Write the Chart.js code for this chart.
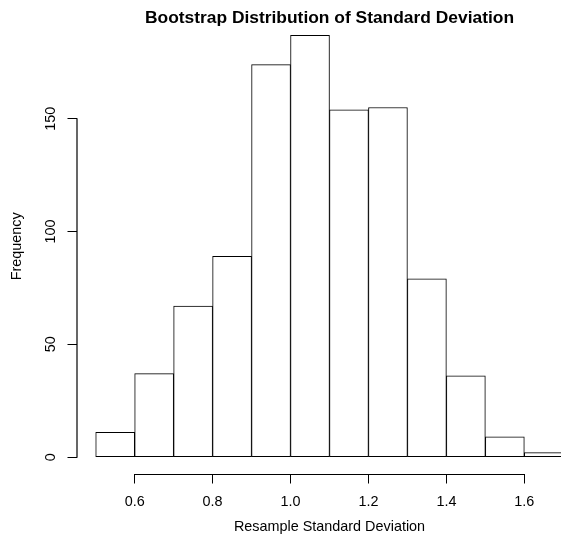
<!DOCTYPE html>
<html>
<head>
<meta charset="utf-8">
<title>Bootstrap Distribution of Standard Deviation</title>
<script src="https://cdn.jsdelivr.net/npm/chart.js@4/dist/chart.umd.min.js"></script>
<style>
  html, body { margin: 0; padding: 0; overflow: hidden; background: #fff; }
  #wrap { width: 659px; height: 538px; }
</style>
</head>
<body>
<div id="wrap"><canvas id="hist" width="659" height="538"></canvas></div>
<script>
// Histogram of 1000 bootstrap standard deviations, bins of width 0.1
const binEdges = [0.5, 0.6, 0.7, 0.8, 0.9, 1.0, 1.1, 1.2, 1.3, 1.4, 1.5, 1.6, 1.7];
const counts = [11, 37, 67, 89, 174, 187, 154, 155, 79, 36, 9, 2];
const xTicks = [0.6, 0.8, 1.0, 1.2, 1.4, 1.6];
const xTickLabels = ['0.6', '0.8', '1.0', '1.2', '1.4', '1.6'];
const yTicks = [0, 50, 100, 150];
const yTickLabels = ['0', '50', '100', '150'];
const mainTitle = 'Bootstrap Distribution of Standard Deviation';

const FONT = "'Liberation Sans', Arial, Helvetica, sans-serif";

// bar centres and base-graphics style 4% axis extension
const mids = counts.map((c, i) => (binEdges[i] + binEdges[i + 1]) / 2);
const xLo = binEdges[0], xHi = binEdges[binEdges.length - 1];
const xPad = (xHi - xLo) * 0.04;
const yMaxCount = Math.max(...counts);
const yPad = yMaxCount * 0.04;

// main title centred over the plotting region
const plotTitle = {
  id: 'plotTitle',
  afterDraw(chart) {
    const { ctx, chartArea } = chart;
    ctx.save();
    ctx.fillStyle = '#000';
    ctx.font = 'bold 17.4px ' + FONT;
    ctx.textAlign = 'center';
    ctx.textBaseline = 'alphabetic';
    ctx.fillText(mainTitle, (chartArea.left + chartArea.right) / 2, 22.5);
    ctx.restore();
  }
};

// axis lines that run only from the first to the last tick
const axisLines = {
  id: 'axisLines',
  afterDraw(chart) {
    const ctx = chart.ctx;
    const area = chart.chartArea;
    const xs = chart.scales.x;
    const ys = chart.scales.y;
    const xb = Math.round(area.bottom) + 0.5;
    const yl = area.left;
    ctx.save();
    ctx.strokeStyle = '#000000';
    ctx.lineWidth = 1;
    ctx.beginPath();
    ctx.moveTo(xs.getPixelForValue(xTicks[0]), xb);
    ctx.lineTo(xs.getPixelForValue(xTicks[xTicks.length - 1]), xb);
    ctx.stroke();
    ctx.lineWidth = 1.2;
    ctx.beginPath();
    ctx.moveTo(yl, ys.getPixelForValue(yTicks[0]) + 0.5);
    ctx.lineTo(yl, ys.getPixelForValue(yTicks[yTicks.length - 1]) - 0.5);
    ctx.stroke();
    ctx.restore();
  }
};

new Chart(document.getElementById('hist'), {
  type: 'bar',
  data: {
    datasets: [{
      data: mids.map((m, i) => ({ x: m, y: counts[i] })),
      backgroundColor: '#ffffff',
      borderColor: '#000000',
      borderWidth: 1,
      borderSkipped: false,
      barPercentage: 1,
      categoryPercentage: 1
    }]
  },
  options: {
    responsive: false,
    animation: false,
    events: [],
    layout: { padding: { top: 18.5, right: 77, bottom: 0, left: 0 } },
    plugins: {
      legend: { display: false },
      tooltip: { enabled: false },
      title: { display: false }
    },
    scales: {
      x: {
        type: 'linear',
        offset: false,
        min: xLo - xPad,
        max: xHi + xPad,
        afterBuildTicks(scale) { scale.ticks = xTicks.map(v => ({ value: v })); },
        afterFit(scale) { scale.height = 64; },
        border: { display: false },
        grid: { display: true, offset: false, drawOnChartArea: false, drawTicks: true, tickLength: 9.5, color: '#000', lineWidth: 1 },
        ticks: {
          autoSkip: false,
          maxRotation: 0,
          padding: 9.5,
          color: '#000',
          font: { family: FONT, size: 14.4 },
          callback: (v, i) => xTickLabels[i]
        },
        title: {
          display: true,
          text: 'Resample Standard Deviation',
          color: '#000',
          font: { family: FONT, size: 14.4, lineHeight: 1.2 },
          padding: { top: 0, bottom: 2.5 }
        }
      },
      y: {
        type: 'linear',
        min: -yPad,
        max: yMaxCount + yPad,
        afterBuildTicks(scale) { scale.ticks = yTicks.map(v => ({ value: v })); },
        afterFit(scale) { scale.width = 77; },
        border: { display: false },
        grid: { display: true, drawOnChartArea: false, drawTicks: true, tickLength: 9.5, color: '#000', lineWidth: 1 },
        ticks: {
          autoSkip: false,
          minRotation: 90,
          maxRotation: 90,
          crossAlign: 'center',
          padding: 4.5,
          color: '#000',
          font: { family: FONT, size: 14.4 },
          callback: (v, i) => yTickLabels[i]
        },
        title: {
          display: true,
          text: 'Frequency',
          color: '#000',
          font: { family: FONT, size: 14.4, lineHeight: 1.2 },
          padding: { top: 8.5, bottom: 0 }
        }
      }
    }
  },
  plugins: [plotTitle, axisLines]
});
</script>
</body>
</html>
